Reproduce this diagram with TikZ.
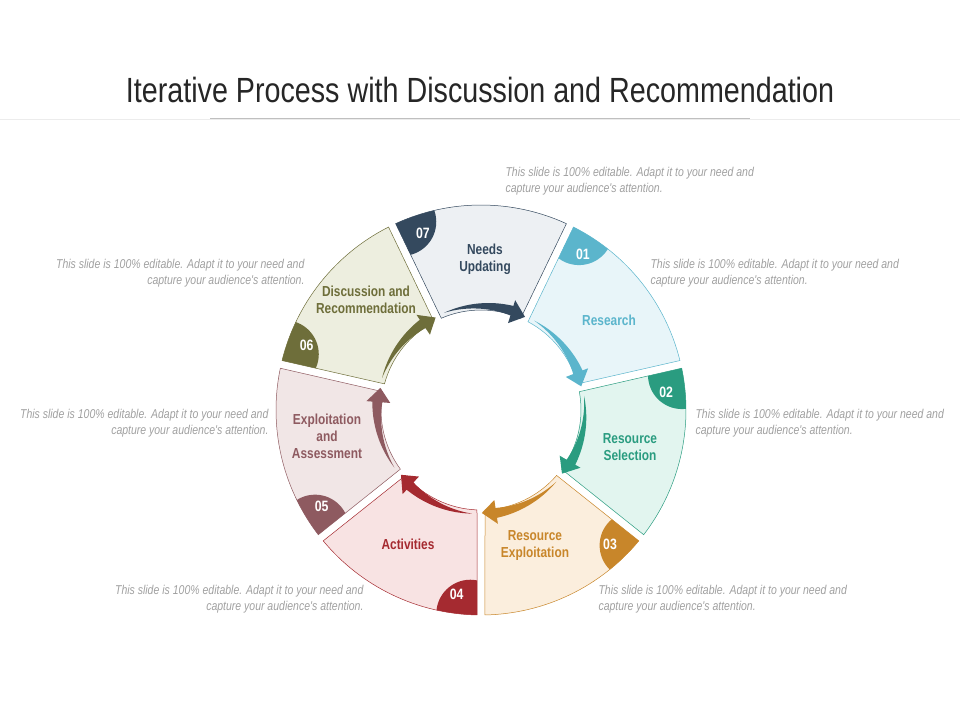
\documentclass[tikz,border=0pt]{standalone}
\usepackage{fontspec}
\setmainfont{Liberation Sans}
\newfontfamily\cond[FakeStretch=0.82]{Liberation Sans}
\usetikzlibrary{positioning}

\definecolor{cA}{HTML}{5BB5CC}\definecolor{fA}{HTML}{E8F5F9}
\definecolor{cB}{HTML}{2A9C80}\definecolor{fB}{HTML}{E2F5EF}
\definecolor{cC}{HTML}{C8862A}\definecolor{fC}{HTML}{FBEEDD}
\definecolor{cD}{HTML}{A52A30}\definecolor{fD}{HTML}{F8E3E3}
\definecolor{cE}{HTML}{8E5A60}\definecolor{fE}{HTML}{F1E6E6}
\definecolor{cF}{HTML}{6E6E3A}\definecolor{fF}{HTML}{EDEEDF}
\definecolor{cG}{HTML}{34495E}\definecolor{fG}{HTML}{EDF0F3}
\definecolor{txtgray}{HTML}{A0A0A0}

\tikzset{
  seglabel/.style={font=\cond\bfseries\fontsize{14.5}{17}\selectfont, align=center},
  segnum/.style={font=\cond\bfseries\fontsize{15}{17}\selectfont, text=white},
  note/.style={font=\cond\itshape\fontsize{12.8}{16}\selectfont, text=txtgray},
}
\newcommand{\notetext}{This slide is 100\% editable. Adapt it to your need and\\capture your audience's attention.}

\begin{document}
\begin{tikzpicture}[x=1pt,y=1pt]
\useasboundingbox (0,-720) rectangle (960,0);

% title
\node (title) at (480,-90) {\cond\fontsize{35}{40}\selectfont\color[HTML]{262626}Iterative Process with Discussion and Recommendation};
\draw[gray!15] (0,-119) -- (960,-119);
\draw[gray!50, line width=1pt] (210,-118) -- (750,-118);

% ring
\begin{scope}[shift={(481,-410)}]
\foreach \n/\c/\f [count=\i] in {01/cA/fA, 02/cB/fB, 03/cC/fC, 04/cD/fD, 05/cE/fE, 06/cF/fF, 07/cG/fG}{
  \pgfmathsetmacro{\e}{64.29-(\i-1)*51.43}
  \pgfmathsetmacro{\s}{\e-51.43}
  \filldraw[draw=\c, fill=\f, line width=0.5pt]
    (\e-1.1:205) arc[start angle=\e-1.1, end angle=\s+1.1, radius=205]
    -- (\s+2.3:100) arc[start angle=\s+2.3, end angle=\e-2.3, radius=100] -- cycle;
  \begin{scope}
    \clip (\e-1.1:205) arc[start angle=\e-1.1, end angle=\s+1.1, radius=205]
      -- (\s+2.3:100) arc[start angle=\s+2.3, end angle=\e-2.3, radius=100] -- cycle;
    \fill[\c] (\e-3:204) circle (34);
  \end{scope}
  \node[segnum] (num\n) at (\e-7.5:186) {\n};
  % arrow
  \fill[\c] plot[domain=0:1, samples=25] ({\e-5-38*\x}:{104+5*\x})
    -- (\e-43:115) -- (\e-51:103) -- (\e-43:91)
    -- plot[domain=1:0, samples=25] ({\e-5-38*\x}:{104-5*\x}) -- cycle;
}
\end{scope}

% segment labels
\node[seglabel, text=cA] (research) at (609,-320) {Research};
\node[seglabel, text=cB] (selection) at (630,-447) {Resource\\Selection};
\node[seglabel, text=cC] (exploit) at (535,-546) {Resource\\Exploitation};
\node[seglabel, text=cD] (activities) at (408,-544) {Activities};
\node[seglabel, text=cE] (assess) at (327,-436) {Exploitation\\and\\Assessment};
\node[seglabel, text=cF] (discuss) at (366,-300) {Discussion and\\Recommendation};
\node[seglabel, text=cG] (needs) at (485,-259) {Needs\\Updating};

% notes
\node[note, align=left, anchor=north west] (note07) at (502,-164) {\notetext};
\node[note, align=left, anchor=north west] (note01) at (647,-256) {\notetext};
\node[note, align=left, anchor=north west] (note02) at (692,-406) {\notetext};
\node[note, align=left, anchor=north west] (note03) at (595,-582) {\notetext};
\node[note, align=right, anchor=north east] (note04) at (367,-582) {\notetext};
\node[note, align=right, anchor=north east] (note05) at (272,-406) {\notetext};
\node[note, align=right, anchor=north east] (note06) at (308,-256) {\notetext};
\end{tikzpicture}
\end{document}
